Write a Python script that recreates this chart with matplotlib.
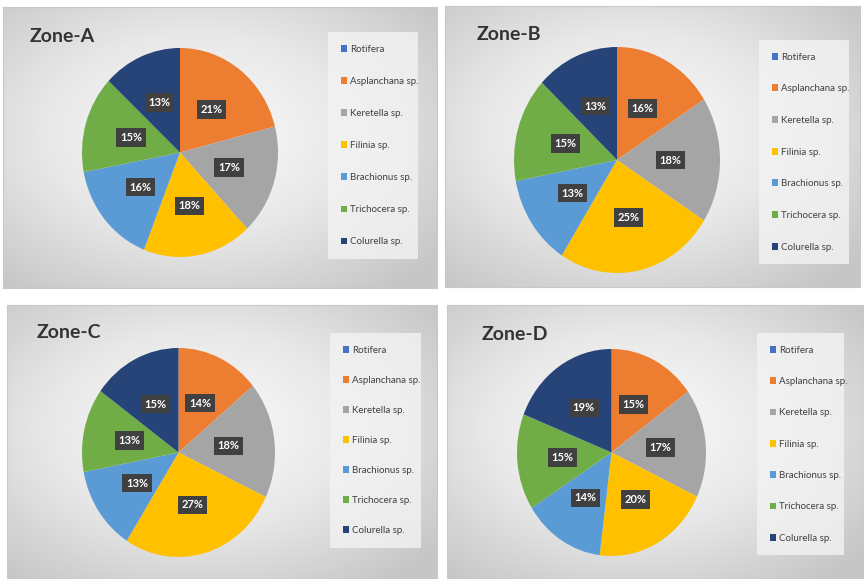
import numpy as np
import matplotlib

matplotlib.use("Agg")
import matplotlib.pyplot as plt
from matplotlib.patches import Patch
from matplotlib.colors import LinearSegmentedColormap

plt.rcParams["font.family"] = ["Lato", "DejaVu Sans"]

species = ["Rotifera", "Asplanchana sp.", "Keretella sp.", "Filinia sp.",
           "Brachionus sp.", "Trichocera sp.", "Colurella sp."]
colors = ["#4472C4", "#ED7D31", "#A5A5A5", "#FFC000", "#5B9BD5", "#70AD47", "#264478"]

zones = ["Zone-A", "Zone-B", "Zone-C", "Zone-D"]
zone_a = [0, 21, 17, 18, 16, 15, 13]
zone_b = [0, 16, 18, 25, 13, 15, 13]
zone_c = [0, 14, 18, 27, 13, 13, 15]
zone_d = [0, 15, 17, 20, 14, 15, 19]
zone_values = [zone_a, zone_b, zone_c, zone_d]

W, H = 864, 579
# layout in pixels (left, top, right, bottom)
panels = [(3, 7, 437, 288), (445, 6, 860, 287), (7, 305, 437, 579), (447, 305, 864, 579)]
pies = [(82, 48, 278, 257), (514, 47, 720, 273), (82, 348, 275, 557), (517, 349, 706, 556)]
titles = [(30, 36), (477, 35), (37, 332), (482, 335)]
legends = [(328, 32, 418, 255), (759, 40, 849, 260), (330, 333, 421, 543), (757, 333, 844, 550)]
spacing = [2.38, 2.33, 2.17, 2.3]

fig = plt.figure(figsize=(W / 100, H / 100), dpi=100)
fig.patch.set_facecolor("white")


def rect(l, t, r, b):
    return [l / W, 1 - b / H, (r - l) / W, (b - t) / H]


bg_cmap = LinearSegmentedColormap.from_list("bg", ["#fbfbfb", "#e8e8e8", "#c6c6c6"])
yy, xx = np.mgrid[0:1:200j, 0:1:300j]
grad = np.sqrt(((xx - 0.45) / 0.75) ** 2 + ((yy - 0.45) / 0.75) ** 2)

for i, vals in enumerate(zone_values):
    bg = fig.add_axes(rect(*panels[i]))
    bg.imshow(grad, cmap=bg_cmap, aspect="auto", extent=[0, 1, 0, 1], vmin=0, vmax=0.95)
    bg.set_xticks([]); bg.set_yticks([])
    for s in bg.spines.values():
        s.set_color("#c8c8c8"); s.set_linewidth(0.8)
    bg.text(titles[i][0] / W, 1 - titles[i][1] / H, zones[i], transform=fig.transFigure,
            fontsize=14, fontweight="bold", color="#333333", va="center", ha="left")

    ax = fig.add_axes(rect(*pies[i]))
    wedges, _, autotexts = ax.pie(
        vals, colors=colors, startangle=90, counterclock=False,
        autopct=lambda p: "%.0f%%" % p if p > 0.5 else "", pctdistance=0.52,
        textprops=dict(color="white", fontsize=8, fontweight="bold"),
        wedgeprops=dict(linewidth=0))
    for t in autotexts:
        t.set_bbox(dict(facecolor="#404040", edgecolor="none", pad=2.6))
    ax.set_aspect("auto")
    ax.set_xlim(-1, 1); ax.set_ylim(-1, 1)

    l, t, r, b = legends[i]
    handles = [Patch(facecolor=c, edgecolor="none") for c in colors]
    leg = ax.legend(handles, species, loc="upper left",
                    bbox_to_anchor=(l / W, 1 - b / H, (r - l) / W, (b - t) / H),
                    bbox_transform=fig.transFigure, mode="expand",
                    fontsize=7, frameon=True, fancybox=False,
                    handlelength=0.7, handleheight=0.7, handletextpad=0.3,
                    labelspacing=spacing[i], borderpad=1.3, borderaxespad=0)
    leg.get_frame().set_facecolor("#f3f3f3")
    leg.get_frame().set_edgecolor("none")
    leg.get_frame().set_alpha(0.8)
    for txt in leg.get_texts():
        txt.set_color("#404040")

fig.savefig("out.png", dpi=100)
